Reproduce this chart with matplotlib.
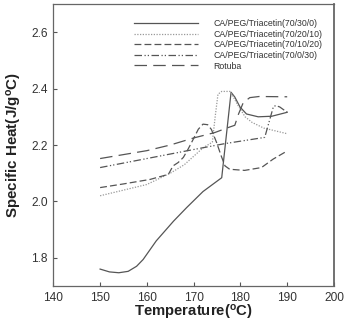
import matplotlib
matplotlib.use("Agg")
import matplotlib.pyplot as plt

plt.rcParams['font.family'] = ['Liberation Sans', 'DejaVu Sans']
plt.rcParams['mathtext.fontset'] = 'custom'
plt.rcParams['mathtext.bf'] = 'Liberation Sans:bold'
plt.rcParams['mathtext.rm'] = 'Liberation Sans'

# 数据
x_30_0 = [150, 152, 154, 156, 157.8, 159.2, 162, 165.7, 168.5, 172, 176, 178, 178.8, 179.9, 181.3, 183.8, 186.7, 190]
y_30_0 = [1.76, 1.75, 1.747, 1.752, 1.77, 1.794, 1.86, 1.93, 1.978, 2.035, 2.084, 2.387, 2.37, 2.335, 2.31, 2.30, 2.302, 2.316]

x_20_10 = [150, 155, 160, 165, 168, 170, 172, 174, 174.6, 175.2, 176, 177.8, 178.5, 179.5, 181, 182.5, 185, 187.5, 190]
y_20_10 = [2.02, 2.04, 2.06, 2.10, 2.13, 2.16, 2.19, 2.21, 2.30, 2.38, 2.39, 2.39, 2.37, 2.34, 2.30, 2.28, 2.26, 2.25, 2.24]

x_10_20 = [150, 155, 160.7, 164.6, 165.6, 166.7, 167.8, 168.8, 169.9, 171, 172, 173, 173.8, 174.9, 175.9, 176.7, 177.7, 180.9, 184.5, 187, 190]
y_10_20 = [2.049, 2.062, 2.078, 2.096, 2.126, 2.138, 2.156, 2.185, 2.22, 2.256, 2.274, 2.272, 2.255, 2.209, 2.161, 2.126, 2.114, 2.11, 2.12, 2.15, 2.179]

x_0_30 = [150, 160, 170, 176.7, 185.2, 187, 187.5, 188.4, 190]
y_0_30 = [2.12, 2.152, 2.184, 2.205, 2.227, 2.333, 2.34, 2.335, 2.316]

x_rot = [150, 160, 165, 170, 174.5, 177.4, 178.8, 179.6, 180.6, 182, 184, 190]
y_rot = [2.152, 2.18, 2.20, 2.225, 2.244, 2.262, 2.27, 2.31, 2.35, 2.368, 2.372, 2.371]

labels = ['CA/PEG/Triacetin(70/30/0)', 'CA/PEG/Triacetin(70/20/10)',
          'CA/PEG/Triacetin(70/10/20)', 'CA/PEG/Triacetin(70/0/30)', 'Rotuba']

fig = plt.figure(figsize=(3.45, 3.34), dpi=100)
ax = fig.add_axes([0.1546, 0.1437, 0.8134, 0.8443])

c = '#555555'
ax.plot(x_30_0, y_30_0, color=c, lw=0.9, ls='-', label=labels[0])
ax.plot(x_20_10, y_20_10, color='#999999', lw=0.9, ls=(0, (1, 1.2)), label=labels[1])
ax.plot(x_10_20, y_10_20, color=c, lw=0.9, ls=(0, (5.5, 2.5)), label=labels[2])
ax.plot(x_0_30, y_0_30, color=c, lw=0.9, ls=(0, (6, 2, 1, 1.6, 1, 2)), label=labels[3])
ax.plot(x_rot, y_rot, color=c, lw=0.9, ls=(0, (10, 5)), label=labels[4])

ax.set_xlim(140, 200)
ax.set_ylim(1.7, 2.7)
ax.set_xticks(range(140, 201, 10))
ax.set_yticks([1.8, 2.0, 2.2, 2.4, 2.6])
ax.set_yticklabels(['1.8', '2.0', '2.2', '2.4', '2.6'])
ax.tick_params(direction='in', length=3, width=0.8, color='#555555',
               labelsize=8.6, labelcolor='#333333', pad=4)

for s in ax.spines.values():
    s.set_color('#666666')
    s.set_linewidth(0.9)
ax.spines['right'].set_linewidth(1.3)

ax.set_xlabel(r'Temperature($\mathbf{^{o}}$C)', fontsize=10.7, fontweight='bold',
              color='#222222')
ax.set_ylabel(r'Specific Heat(J/g$\mathbf{^{o}}$C)', fontsize=10.9, fontweight='bold',
              color='#222222')
ax.xaxis.set_label_coords(0.5, -0.062)
ax.yaxis.set_label_coords(-0.106, 0.5)

ax.legend(loc='upper left', bbox_to_anchor=(0.288, 0.946), frameon=False,
          fontsize=6.35, handlelength=7.25, handletextpad=1.7, labelspacing=0.18,
          borderpad=0, borderaxespad=0, labelcolor='#333333')

fig.savefig('out.png', dpi=100)
